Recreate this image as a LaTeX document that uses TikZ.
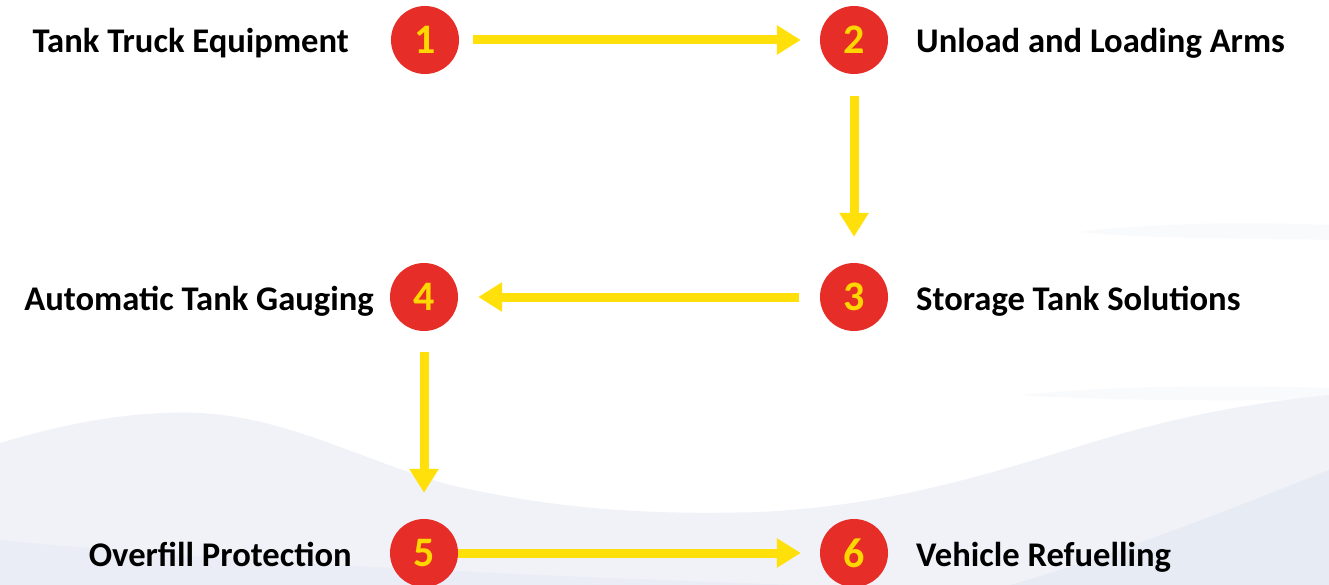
\documentclass[tikz,border=0pt]{standalone}
\usepackage{fontspec}
\setmainfont{Carlito}
\usetikzlibrary{arrows.meta}
\definecolor{dotred}{RGB}{230,45,39}
\definecolor{arryel}{RGB}{255,224,10}
\definecolor{numyel}{RGB}{255,215,0}
\definecolor{hill}{RGB}{240,242,248}
\definecolor{hilldark}{RGB}{231,235,244}
\tikzset{
  dot/.style={circle, fill=dotred, minimum size=68pt, inner sep=0pt, text=numyel, font=\fontsize{42}{42}\selectfont\bfseries},
  lbl/.style={font=\fontsize{34.6}{35}\selectfont\bfseries, inner sep=0pt, text=black},
  arr/.style={draw=arryel, line width=9pt, -{Triangle[length=24pt,width=28pt]}}
}
\begin{document}
\begin{tikzpicture}[x=1pt,y=-1pt]
\useasboundingbox (0,0) rectangle (1329,585);
\begin{scope}
\clip (0,0) rectangle (1329,585);
\fill[white] (0,0) rectangle (1329,585);
% background hills
\fill[hill] (0,443) .. controls (60,425) and (130,410) .. (200,413)
  .. controls (290,418) and (360,460) .. (450,485)
  .. controls (560,510) and (650,515) .. (760,512)
  .. controls (900,505) and (1000,470) .. (1100,440)
  .. controls (1200,410) and (1280,400) .. (1329,395)
  -- (1329,585) -- (0,585) -- cycle;
\fill[hilldark] (1010,585) .. controls (1100,560) and (1230,510) .. (1329,470) -- (1329,585) -- cycle;
\fill[hilldark, opacity=0.6] (0,540) .. controls (200,560) and (500,575) .. (800,585) -- (0,585) -- cycle;
\fill[hill, opacity=0.35] (1020,395) .. controls (1120,385) and (1240,385) .. (1329,388) -- (1329,400) .. controls (1240,400) and (1120,402) .. (1020,395) -- cycle;
\fill[hill, opacity=0.35] (1080,232) .. controls (1160,222) and (1260,222) .. (1329,225) -- (1329,240) .. controls (1260,238) and (1160,240) .. (1080,232) -- cycle;
\end{scope}
% circles
\node[dot] (c1) at (425,40) {1};
\node[dot] (c2) at (854,40) {2};
\node[dot] (c3) at (854,297) {3};
\node[dot] (c4) at (424,297) {4};
\node[dot] (c5) at (424,553) {5};
\node[dot] (c6) at (854,553) {6};
% labels
\node[lbl, anchor=base east] (l1) at (349,53) {Tank Truck Equipment};
\node[lbl, anchor=base west] (l2) at (916,53) {Unload and Loading Arms};
\node[lbl, anchor=base west] (l3) at (916,310) {Storage Tank Solutions};
\node[lbl, anchor=base east] (l4) at (374,310) {Automatic Tank Gauging};
\node[lbl, anchor=base east] (l5) at (352,566) {Overfill Protection};
\node[lbl, anchor=base west] (l6) at (916,566) {Vehicle Refuelling};
% arrows
\draw[arr, shorten <=14pt, shorten >=19pt] (c1) -- (c2);
\draw[arr, shorten <=22pt, shorten >=26pt] (c2) -- (c3);
\draw[arr, shorten <=21pt, shorten >=20pt] (c3) -- (c4);
\draw[arr, shorten <=21pt, shorten >=26pt] (c4) -- (c5);
\draw[arr, shorten <=0pt, shorten >=19pt] (c5) -- (c6);
\end{tikzpicture}
\end{document}
